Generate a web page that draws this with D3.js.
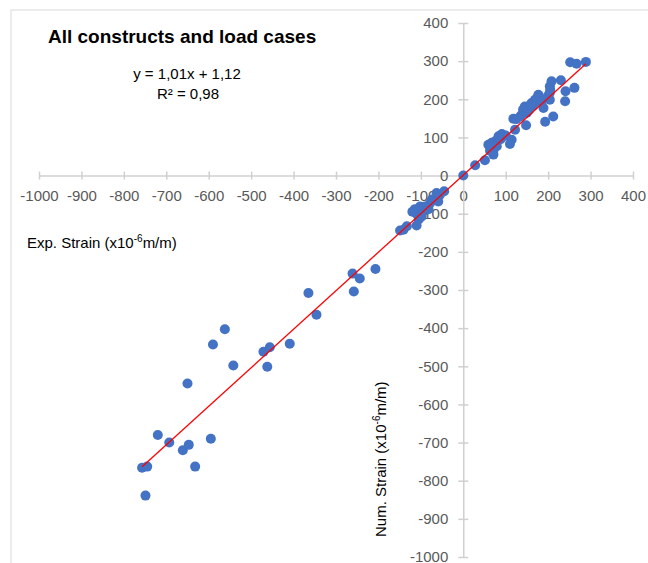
<!DOCTYPE html>
<html>
<head>
<meta charset="utf-8">
<script src="https://cdn.jsdelivr.net/npm/d3@7"></script>
<style>
  body { margin: 0; background: #fff; }
  text { font-family: "Liberation Sans", Arial, sans-serif; }
</style>
</head>
<body>
<script>
    // measured strains, x10^-6 m/m
    var expStrain = [
        -757, -745, -749, -720, -693, -661, -647, -632, -595, -650, -590, -562, -542,
        -471, -456, -462, -409, -365, -346, -261, -244, -258, -207,
        -149, -141, -133, -110, -98, -110, -114, -102, -90, -94, -82, -78, -74,
        -63, -55, -59, -45, -120, -105, 0,
        28, 51, 71, 63, 59, 67, 75, 83, 91, 94, 79, 71, 114, 110, 122, 118,
        148, 134, 141, 145, 153, 161, 169, 177, 181, 189, 193, 212, 204, 204,
        204, 208, 230, 241, 262, 240, 252, 267, 289,
        138, 143, 147, 150, 155, 158, 163, 166, 172, 175, 180, 185, 200, 205,
        125, 100, 88, 72, 65
    ];
    var numStrain = [
        -766, -763, -839, -680, -700, -720, -706, -763, -690, -545, -443, -403, -498,
        -462, -450, -501, -441, -308, -365, -257, -270, -304, -245,
        -144, -142, -133, -131, -107, -100, -88, -81, -81, -94, -88, -72, -63,
        -46, -50, -68, -41, -95, -115, 0,
        27, 40, 55, 65, 81, 86, 90, 103, 109, 103, 77, 65, 94, 83, 120, 149,
        132, 155, 173, 181, 177, 190, 199, 212, 203, 177, 141, 155, 199, 217,
        234, 247, 250, 221, 230, 195, 297, 293, 298,
        160, 168, 175, 165, 172, 185, 182, 190, 193, 205, 200, 195, 210, 225,
        148, 105, 95, 78, 75
    ];
    var xTicks = d3.range(-1000, 401, 100);
    var yTicks = d3.range(-1000, 401, 100);
    var slope = 1.01, intercept = 1.12;

    var W = 648, H = 563;

    var svg = d3.select('body').append('svg')
        .attr('width', W)
        .attr('height', H);

    // chart border (only top & left are in view)
    svg.append('rect')
        .attr('x', 11).attr('y', 10)
        .attr('width', W + 20).attr('height', H + 20)
        .attr('fill', 'none')
        .attr('stroke', '#d9d9d9');

    var x = d3.scaleLinear().domain([-1000, 400]).range([39, 633]),
        y = d3.scaleLinear().domain([-1000, 400]).range([557, 23]);

    var fmt = function(d) { return String(d); };

    var xAxis = svg.append('g')
        .attr('transform', 'translate(0,' + y(0) + ')')
        .call(d3.axisBottom(x).tickValues(xTicks).tickFormat(fmt)
            .tickSize(4).tickPadding(11).tickSizeOuter(0));

    xAxis.selectAll('.tick line').attr('y1', -4).attr('y2', 4);

    var yAxis = svg.append('g')
        .attr('transform', 'translate(' + x(0) + ',0)')
        .call(d3.axisLeft(y).tickValues(yTicks).tickFormat(fmt)
            .tickSize(5).tickPadding(10).tickSizeOuter(0));

    yAxis.selectAll('.tick line').attr('x1', -5).attr('x2', 5);

    svg.selectAll('.domain, .tick line')
        .attr('stroke', '#d0d0d0')
        .attr('stroke-width', 1.5);

    svg.selectAll('.tick text')
        .attr('fill', '#595959')
        .style('font-size', '15px')
        .style('font-family', '"Liberation Sans", Arial, sans-serif');

    // points
    svg.append('g').selectAll('circle')
        .data(expStrain)
        .enter().append('circle')
            .attr('cx', function(d) { return x(d); })
            .attr('cy', function(d, i) { return y(numStrain[i]); })
            .attr('r', 5)
            .attr('fill', '#4472c4');

    // linear trendline
    var x0 = d3.min(expStrain), x1 = d3.max(expStrain);
    svg.append('line')
        .attr('x1', x(x0)).attr('y1', y(slope * x0 + intercept))
        .attr('x2', x(x1)).attr('y2', y(slope * x1 + intercept))
        .attr('stroke', '#ff0000')
        .attr('stroke-width', 1.3);

    svg.append('text')
        .attr('x', 48).attr('y', 43)
        .style('font-size', '19px')
        .style('font-weight', 'bold')
        .attr('fill', '#000')
        .text('All constructs and load cases');

    svg.append('text')
        .attr('x', 187).attr('y', 79)
        .attr('text-anchor', 'middle')
        .style('font-size', '15px')
        .attr('fill', '#000')
        .text('y = 1,01x + 1,12');

    svg.append('text')
        .attr('x', 188).attr('y', 99)
        .attr('text-anchor', 'middle')
        .style('font-size', '15px')
        .attr('fill', '#000')
        .text('R² = 0,98');

    function strainLabel(sel, name) {
        sel.append('tspan').text(name + ' (x10');
        sel.append('tspan').attr('dy', -6).style('font-size', '10px').text('-6');
        sel.append('tspan').attr('dy', 6).text('m/m)');
    }

    svg.append('text')
        .attr('x', 27).attr('y', 248)
        .style('font-size', '15px')
        .attr('fill', '#000')
        .call(strainLabel, 'Exp. Strain');

    svg.append('text')
        .attr('transform', 'translate(386,537) rotate(-90)')
        .style('font-size', '15px')
        .attr('fill', '#000')
        .call(strainLabel, 'Num. Strain');
</script>
</body>
</html>
